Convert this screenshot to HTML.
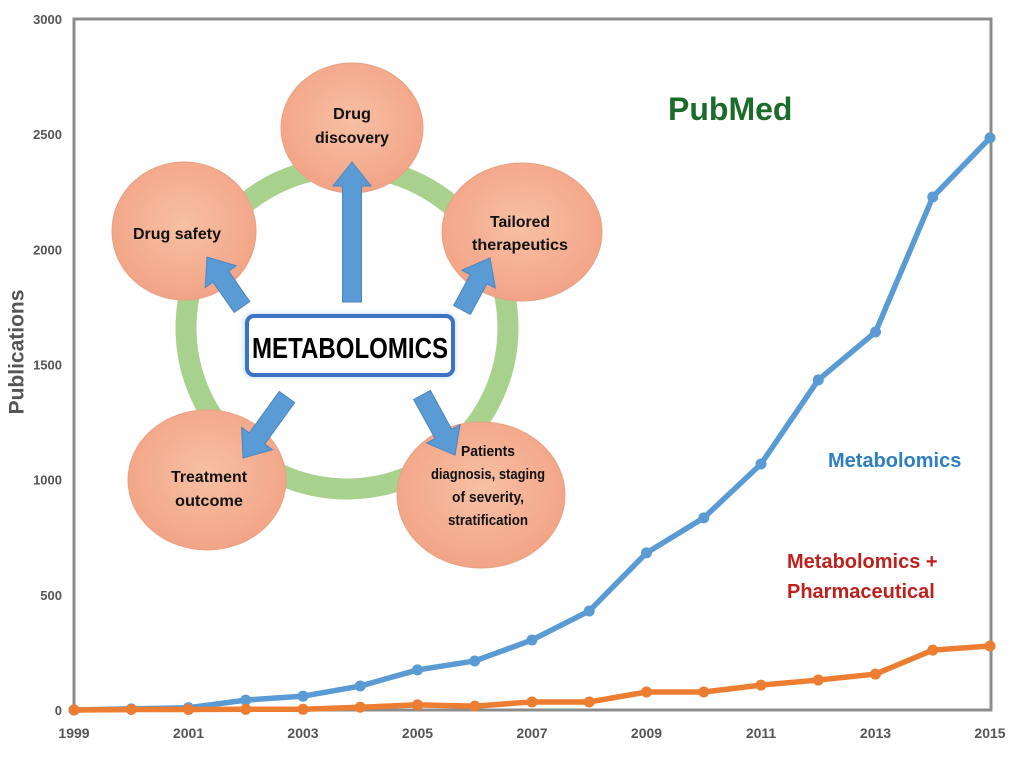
<!DOCTYPE html>
<html><head><meta charset="utf-8">
<style>
html,body{margin:0;padding:0;background:#fff;}
svg{display:block;font-family:"Liberation Sans",Arial,sans-serif;}
</style></head>
<body>
<svg id="chart" width="1024" height="757" viewBox="0 0 1024 757">
<defs>
<radialGradient id="peach" cx="50%" cy="45%" r="60%">
<stop offset="0%" stop-color="#f7c0a4"/><stop offset="100%" stop-color="#f2a184"/>
</radialGradient>
<filter id="glow" x="-20%" y="-40%" width="140%" height="180%"><feGaussianBlur stdDeviation="3"/></filter>
</defs>
<rect x="74" y="19" width="917" height="691" fill="none" stroke="#8c8c8c" stroke-width="3"/>
<g id="yticks"></g>
<g id="xticks"></g>
<text x="17" y="352" transform="rotate(-90 17 352)" text-anchor="middle" dominant-baseline="central" font-size="21" font-weight="bold" fill="#555">Publications</text>
<g id="series"></g>

<g>
<circle cx="347" cy="328" r="161" fill="none" stroke="#a9d18e" stroke-width="21"/>
<ellipse cx="352" cy="128" rx="71" ry="65" fill="url(#peach)" stroke="#e9a083"/>
<ellipse cx="184" cy="231" rx="72" ry="69" fill="url(#peach)" stroke="#e9a083"/>
<ellipse cx="522" cy="232" rx="80" ry="69" fill="url(#peach)" stroke="#e9a083"/>
<ellipse cx="207" cy="480" rx="79" ry="70" fill="url(#peach)" stroke="#e9a083"/>
<ellipse cx="481" cy="495" rx="84" ry="73" fill="url(#peach)" stroke="#e9a083"/>
<g font-weight="bold" font-size="16" fill="#111" text-anchor="middle" lengthAdjust="spacingAndGlyphs">
<text x="352" y="119" textLength="38" lengthAdjust="spacingAndGlyphs">Drug</text>
<text x="352" y="143" textLength="74" lengthAdjust="spacingAndGlyphs">discovery</text>
<text x="177" y="239" textLength="88" lengthAdjust="spacingAndGlyphs">Drug safety</text>
<text x="520" y="227" textLength="60" lengthAdjust="spacingAndGlyphs">Tailored</text>
<text x="520" y="250" textLength="96" lengthAdjust="spacingAndGlyphs">therapeutics</text>
<text x="209" y="482" textLength="76" lengthAdjust="spacingAndGlyphs">Treatment</text>
<text x="209" y="506" textLength="68" lengthAdjust="spacingAndGlyphs">outcome</text>
<g font-size="15">
<text x="488" y="456" textLength="54" lengthAdjust="spacingAndGlyphs">Patients</text>
<text x="488" y="479" textLength="114" lengthAdjust="spacingAndGlyphs">diagnosis, staging</text>
<text x="488" y="502" textLength="72" lengthAdjust="spacingAndGlyphs">of severity,</text>
<text x="488" y="525" textLength="80" lengthAdjust="spacingAndGlyphs">stratification</text>
</g></g>
<g id="arrows" fill="#5b9bd5" stroke="#4a86c0" stroke-width="1"></g>
<rect x="244" y="314" width="211" height="63" rx="8" fill="#bcd7f2" filter="url(#glow)"/>
<rect x="247" y="316" width="206" height="59" rx="7" fill="#fff" stroke="#3d72c4" stroke-width="4"/>
<text x="350" y="358" text-anchor="middle" font-size="29" font-weight="bold" fill="#000" textLength="196" lengthAdjust="spacingAndGlyphs">METABOLOMICS</text>
</g>

<text x="668" y="120" font-size="32" font-weight="bold" fill="#1d6b2c">PubMed</text>
<text x="828" y="467" font-size="20" font-weight="bold" fill="#2e7ec4">Metabolomics</text>
<text x="787" y="568" font-size="20" font-weight="bold" fill="#c0201c">Metabolomics +</text>
<text x="787" y="598" font-size="20" font-weight="bold" fill="#c0201c">Pharmaceutical</text>
</svg>
<script>
const years = [1999,2000,2001,2002,2003,2004,2005,2006,2007,2008,2009,2010,2011,2012,2013,2014,2015];
const metabolomics = [0,5,10,43,60,104,174,213,304,430,682,834,1068,1433,1641,2227,2484];
const metabPharma = [0,2,2,3,3,12,22,17,35,35,78,78,108,130,156,260,278];
const yTickLabels = [0,500,1000,1500,2000,2500,3000];
const xTickLabels = [1999,2001,2003,2005,2007,2009,2011,2013,2015];

const NS='http://www.w3.org/2000/svg';
const x0=74,x1=990,yBase=710,yTop=19;
function xs(y){return x0+(y-1999)*(x1-x0)/16;}
function ys(v){return yBase-v*(yBase-yTop)/3000;}
function mk(tag,attrs,parent){const e=document.createElementNS(NS,tag);for(const k in attrs)e.setAttribute(k,attrs[k]);parent.appendChild(e);return e;}

const yt=document.getElementById('yticks');
yTickLabels.forEach(v=>{
  const t=mk('text',{x:62,y:ys(v)+5,'text-anchor':'end','font-size':13,'font-weight':'bold',fill:'#555'},yt);
  
  
  t.textContent=v;
});
const xt=document.getElementById('xticks');
xTickLabels.forEach(v=>{
  const t=mk('text',{x:xs(v),y:738,'text-anchor':'middle','font-size':14,'font-weight':'bold',fill:'#555'},xt);
  
  
  t.textContent=v;
});

const sg=document.getElementById('series');
function series(vals,color,name){
  const g=mk('g',{},sg);
  
  
  const pts=vals.map((v,i)=>xs(years[i])+','+ys(v)).join(' ');
  const l=mk('polyline',{points:pts,fill:'none',stroke:color,'stroke-width':5.5,'stroke-linejoin':'round'},g);
  
  
  vals.forEach((v,i)=>{
    const c=mk('circle',{cx:xs(years[i]),cy:ys(v),r:5.5,fill:color},g);
    
    
  });
}
series(metabolomics,'#5b9bd5','metabolomics-series');
series(metabPharma,'#ed7d31','pharma-series');

const ag=document.getElementById('arrows');
const arrowDefs=[[352,302,352,162],[242,307,207,257],[462,310,490,258],[287,397,243,458],[422,395,455,455]];
arrowDefs.forEach(a=>{
  const dx=a[2]-a[0],dy=a[3]-a[1],L=Math.hypot(dx,dy),ang=Math.atan2(dy,dx)*180/Math.PI;
  const hl=24,sw=9.5,hw=19;
  const p=`0,${-sw} ${L-hl},${-sw} ${L-hl},${-hw} ${L},0 ${L-hl},${hw} ${L-hl},${sw} 0,${sw}`;
  const e=mk('polygon',{points:p,transform:`translate(${a[0]},${a[1]}) rotate(${ang})`},ag);
  
  
});
</script>
</body></html>
